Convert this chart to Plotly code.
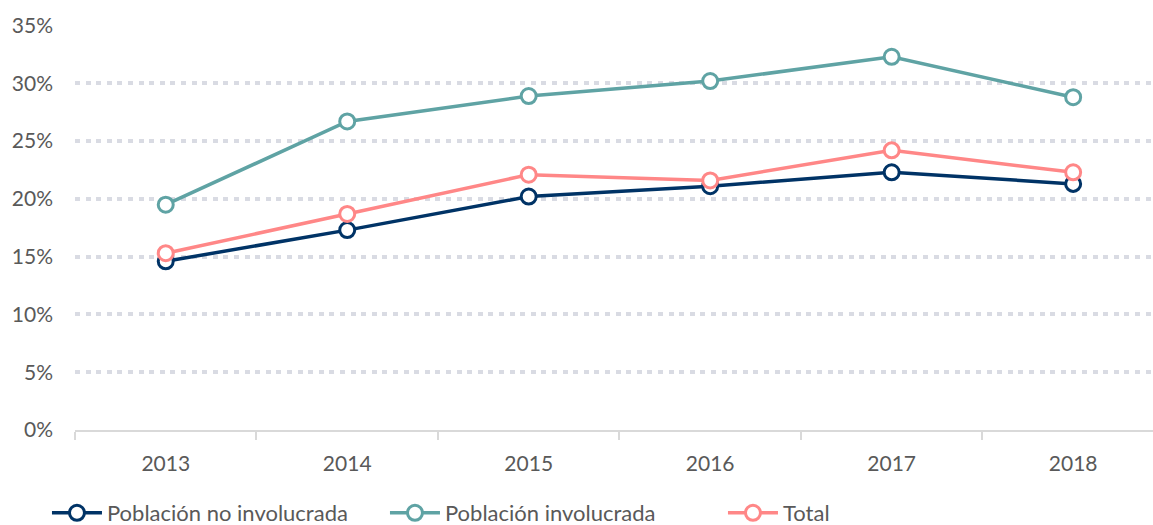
import plotly.graph_objects as go

years = ["2013", "2014", "2015", "2016", "2017", "2018"]
no_involucrada = [14.6, 17.3, 20.2, 21.1, 22.3, 21.3]
involucrada = [19.5, 26.7, 28.9, 30.2, 32.3, 28.8]
total = [15.3, 18.7, 22.1, 21.6, 24.2, 22.3]

series = [
    ("Población no involucrada", no_involucrada, "#003366"),
    ("Población involucrada", involucrada, "#5fa3a4"),
    ("Total", total, "#ff8787"),
]

fig = go.Figure()
for name, vals, color in series:
    fig.add_trace(go.Scatter(
        x=years, y=vals, name=name, mode="lines+markers",
        line=dict(color=color, width=3.5),
        marker=dict(symbol="circle", size=15, color="white",
                    line=dict(color=color, width=3)),
    ))

fig.update_layout(
    width=1153, height=525,
    margin=dict(l=75, r=0, t=25, b=95, autoexpand=False),
    paper_bgcolor="white", plot_bgcolor="white",
    font=dict(family="Lato", size=21, color="#595959"),
    showlegend=True,
    legend=dict(orientation="h", x=-0.026, xanchor="left", y=-0.153, yanchor="top",
                font=dict(size=22, color="#595959"), itemwidth=50,
                entrywidth=273, traceorder="normal"),
)
fig.update_xaxes(
    type="category", range=[-0.5, 5.44], automargin=False,
    showgrid=False, showline=True, linecolor="#d9d9d9", linewidth=2,
    ticks="outside", tickson="boundaries", ticklen=8, tickcolor="#d9d9d9",
    tickwidth=1.5, ticklabelstandoff=14,
)
fig.update_yaxes(
    range=[0, 35.05], dtick=5, ticksuffix="%", automargin=False,
    showgrid=True, gridcolor="#d9dbe3", gridwidth=4, griddash="5px,5.6px",
    zeroline=False, showline=False, ticklabelstandoff=21,
)
fig.write_html(
    "out.html",
    config={"displayModeBar": False},
    post_script="document.body.style.margin='0px';document.body.style.overflow='hidden';",
)
